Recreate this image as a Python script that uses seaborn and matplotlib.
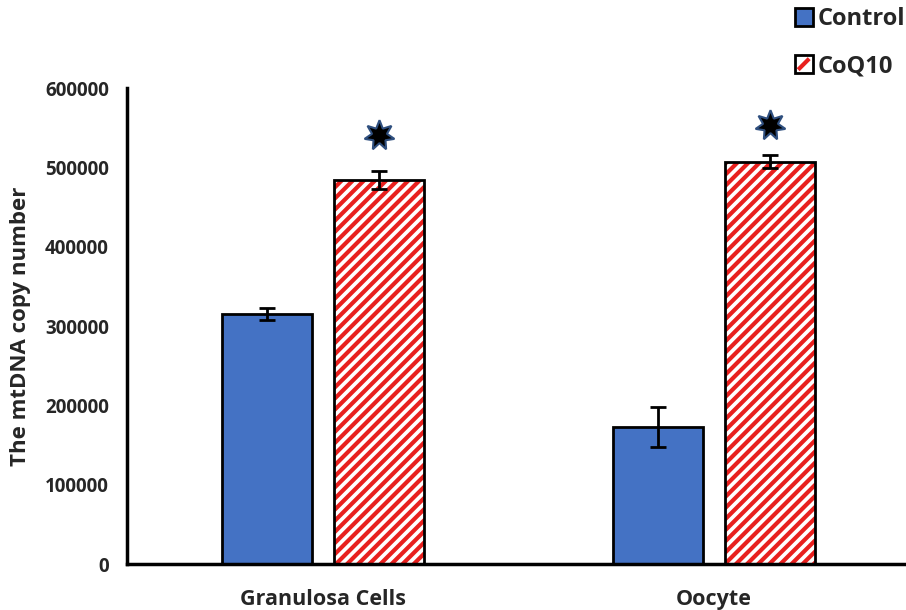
import matplotlib
matplotlib.use("Agg")
import matplotlib.pyplot as plt
import seaborn as sns
import pandas as pd
from matplotlib.patches import Patch, Rectangle
from matplotlib.lines import Line2D
from matplotlib.legend_handler import HandlerBase

# Data
groups = ["Granulosa Cells", "Oocyte"]
treatments = ["Control", "CoQ10"]
control_vals = [315000, 173000]
coq10_vals = [484000, 507000]
control_err = [7500, 25000]
coq10_err = [11000, 8000]
star_heights = [541000, 553000]
yticks = [0, 100000, 200000, 300000, 400000, 500000, 600000]

df = pd.DataFrame({
    "group": groups * 2,
    "treatment": ["Control"] * 2 + ["CoQ10"] * 2,
    "value": control_vals + coq10_vals,
})

sns.set_theme(style="white")
plt.rcParams["font.family"] = ["Open Sans", "DejaVu Sans"]
plt.rcParams["hatch.linewidth"] = 3.0

red = "#e8201e"
blue = "#4472C4"

fig = plt.figure(figsize=(9.06, 6.10), dpi=100)
ax = fig.add_axes([0.140, 0.0754, 0.859, 0.7803])

sns.barplot(data=df, x="group", y="value", hue="treatment", order=groups,
            hue_order=treatments, palette=[blue, "white"], saturation=1,
            width=0.5735, gap=0.196, errorbar=None, edgecolor="black",
            linewidth=2, legend=False, ax=ax)

# Patches come ordered by hue level, then by group
bars = list(ax.patches)
ctrl_bars = bars[0:2]
coq_bars = bars[2:4]
for b in coq_bars:
    # red stripes inside, black outline drawn on top
    b.set_hatch("///")
    b.set_facecolor("white")
    b.set_edgecolor(red)
    b.set_linewidth(0)
    ax.add_patch(Rectangle((b.get_x(), b.get_y()), b.get_width(), b.get_height(),
                           fill=False, edgecolor="black", linewidth=2,
                           zorder=b.get_zorder() + 0.1))

def centers(bs):
    return [b.get_x() + b.get_width() / 2 for b in bs]

ax.errorbar(centers(ctrl_bars), control_vals, yerr=control_err, fmt="none",
            ecolor="black", elinewidth=2, capsize=6, capthick=2, zorder=5)
ax.errorbar(centers(coq_bars), coq10_vals, yerr=coq10_err, fmt="none",
            ecolor="black", elinewidth=2, capsize=6, capthick=2, zorder=5)

# Significance markers
ax.plot(centers(coq_bars), star_heights, linestyle="none", marker=(7, 1, 0),
        markersize=22, markerfacecolor="black", markeredgecolor="#2f4f7f",
        markeredgewidth=1.5, zorder=6)

ax.set_ylim(0, 600000)
ax.set_xlim(-0.502, 1.49)
ax.set_yticks(yticks)
ax.set_yticklabels([str(v) for v in yticks], fontsize=13.5, fontweight="bold")
ax.set_xticklabels(groups, fontsize=15.5, fontweight="bold")
ax.tick_params(axis="y", length=0, pad=13)
ax.tick_params(axis="x", length=0, pad=18)
ax.set_xlabel("")
ax.set_ylabel("The mtDNA copy number", fontsize=16, fontweight="bold", labelpad=10)

for s in ["top", "right"]:
    ax.spines[s].set_visible(False)
for s in ["left", "bottom"]:
    ax.spines[s].set_color("black")
    ax.spines[s].set_linewidth(2.5)


class StripeKey(HandlerBase):
    """White key box with a single red diagonal stripe and black outline."""
    def create_artists(self, legend, orig_handle, xdescent, ydescent,
                       width, height, fontsize, trans):
        s = min(width, height)
        x0 = -xdescent + (width - s) / 2
        y0 = -ydescent + (height - s) / 2
        box = Rectangle((x0, y0), s, s, facecolor="white", edgecolor="black",
                        linewidth=2, transform=trans)
        m = s * 0.2
        stripe = Line2D([x0 + m, x0 + s - m], [y0 + m, y0 + s - m], color=red,
                        linewidth=3, solid_capstyle="butt", transform=trans)
        return [box, stripe]


class SolidKey(HandlerBase):
    def create_artists(self, legend, orig_handle, xdescent, ydescent,
                       width, height, fontsize, trans):
        s = min(width, height)
        x0 = -xdescent + (width - s) / 2
        y0 = -ydescent + (height - s) / 2
        box = Rectangle((x0, y0), s, s, facecolor=blue, edgecolor="black",
                        linewidth=2, transform=trans)
        return [box]


h_ctrl = Patch(facecolor=blue, label="Control")
h_coq = Patch(facecolor="white", label="CoQ10")
fig.legend(handles=[h_ctrl, h_coq], loc="upper right",
           bbox_to_anchor=(1.023, 1.023), frameon=False,
           prop={"weight": "bold", "size": 17},
           labelspacing=0.98, handlelength=0.82, handleheight=0.82,
           handletextpad=0.2,
           handler_map={h_ctrl: SolidKey(), h_coq: StripeKey()})

fig.savefig("out.png", dpi=100)
